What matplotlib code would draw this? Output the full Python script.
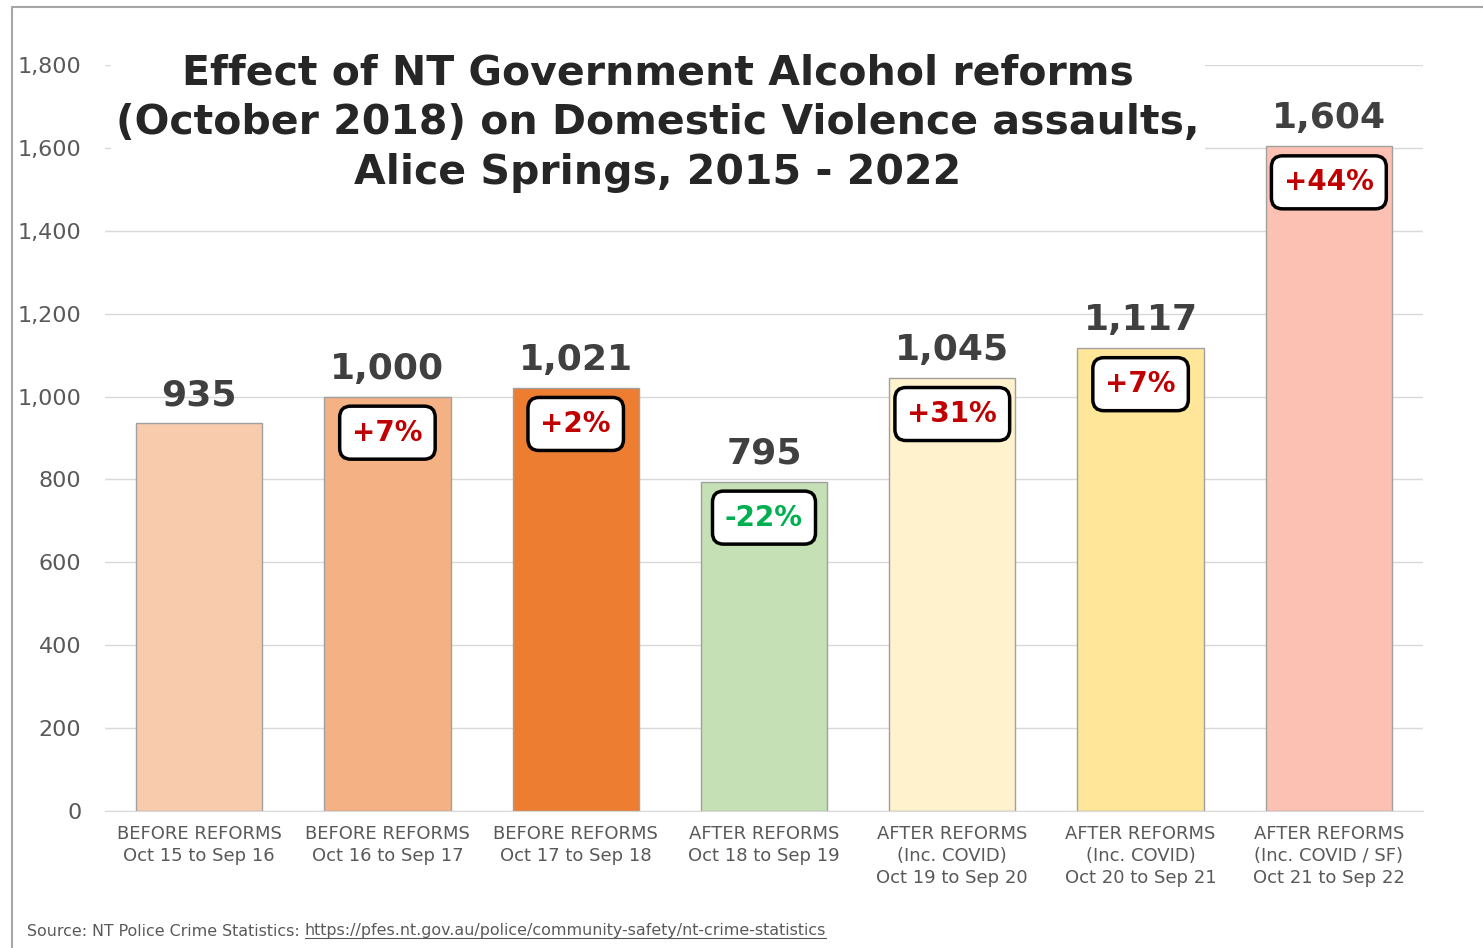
import numpy as np
import matplotlib
matplotlib.use("Agg")
from matplotlib import pyplot as plt
from matplotlib.lines import Line2D

# data
periods = ["BEFORE REFORMS\nOct 15 to Sep 16",
           "BEFORE REFORMS\nOct 16 to Sep 17",
           "BEFORE REFORMS\nOct 17 to Sep 18",
           "AFTER REFORMS\nOct 18 to Sep 19",
           "AFTER REFORMS\n(Inc. COVID)\nOct 19 to Sep 20",
           "AFTER REFORMS\n(Inc. COVID)\nOct 20 to Sep 21",
           "AFTER REFORMS\n(Inc. COVID / SF)\nOct 21 to Sep 22"]
assaults = [935, 1000, 1021, 795, 1045, 1117, 1604]
changes = [None, "+7%", "+2%", "-22%", "+31%", "+7%", "+44%"]
bar_colors = ["#f8cbad", "#f4b183", "#ed7d31", "#c5e0b4", "#fff2cc", "#ffe699", "#fcc1b2"]

plt.rcParams['font.family'] = ['DejaVu Sans']

fig = plt.figure(figsize=(14.83, 9.48), dpi=100)
ax = fig.add_axes([105/1483, 1 - 811/948, (1423 - 105)/1483, (811 - 65)/948])

x = np.arange(len(assaults))
ax.bar(x, assaults, width=0.67, color=bar_colors, edgecolor="#a0a0a0", linewidth=1, zorder=2)

ax.set_xlim(-0.5, len(assaults) - 0.5)
ax.set_ylim(0, 1800)
ax.set_yticks(range(0, 1801, 200))
ax.yaxis.set_major_formatter(matplotlib.ticker.FuncFormatter(lambda v, p: f"{int(v):,}"))
ax.grid(axis="y", color="#d9d9d9", linewidth=1, zorder=0)
ax.set_axisbelow(True)
for s in ["top", "right", "left"]:
    ax.spines[s].set_visible(False)
ax.spines["bottom"].set_color("#d9d9d9")
ax.tick_params(axis="y", length=0, pad=17, labelsize=16, labelcolor="#595959")
ax.tick_params(axis="x", length=0, pad=10, labelsize=13, labelcolor="#595959")
ax.set_xticks(x)
ax.set_xticklabels(periods, linespacing=1.3)

for i, v in enumerate(assaults):
    ax.annotate(f"{v:,}", (i, v), xytext=(0, 13), textcoords="offset points",
                ha="center", va="baseline", fontsize=26, fontweight="bold", color="#404040")
    if changes[i]:
        col = "#00b050" if changes[i].startswith("-") else "#c00000"
        ax.annotate(changes[i], (i, v), xytext=(0, -26), textcoords="offset points",
                    ha="center", va="center", fontsize=20, fontweight="bold", color=col,
                    bbox=dict(boxstyle="round,pad=0.45,rounding_size=0.4", fc="white",
                              ec="black", lw=2.5), zorder=5)

fig.text(658/1483, 1 - 123.5/948,
         "Effect of NT Government Alcohol reforms\n(October 2018) on Domestic Violence assaults,\nAlice Springs, 2015 - 2022",
         ha="center", va="center", multialignment="center", fontsize=29.5, fontweight="bold",
         color="#262626", linespacing=1.31,
         bbox=dict(boxstyle="square,pad=0.12", fc="white", ec="none"))

# source line with underlined link
src = fig.text(27/1483, 1 - 931/948, "Source: NT Police Crime Statistics: ",
               ha="left", va="center", fontsize=11.4, color="#595959")
fig.canvas.draw()
bb = src.get_window_extent()
url = fig.text(bb.x1 / 1483, 1 - 931/948,
               "https://pfes.nt.gov.au/police/community-safety/nt-crime-statistics",
               ha="left", va="center", fontsize=11.4, color="#595959")
fig.canvas.draw()
ub = url.get_window_extent()
fig.add_artist(Line2D([ub.x0/1483, ub.x1/1483], [(ub.y0 + 1)/948, (ub.y0 + 1)/948],
                      color="#595959", lw=0.8))

# outer frame (only left and top edges visible in the crop)
fig.add_artist(Line2D([12/1483, 12/1483, 1.0], [0.0, 1 - 7/948, 1 - 7/948],
                      color="#a6a6a6", lw=1.5))

fig.savefig("out.png", dpi=100)
